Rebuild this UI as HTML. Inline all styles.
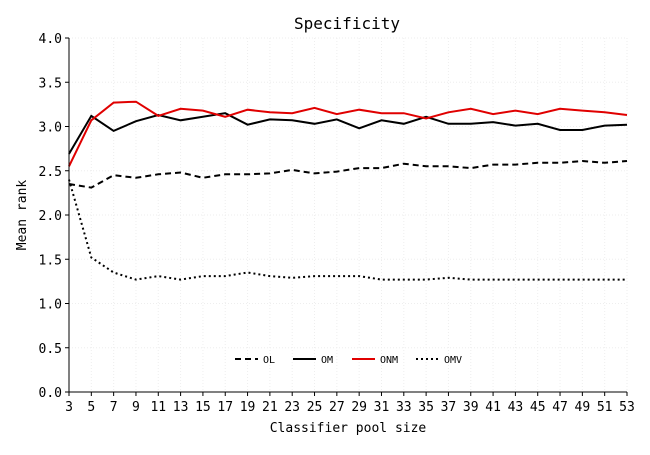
<!DOCTYPE html>
<html><head><meta charset="utf-8"><style>
body{margin:0;background:#fff}
svg{font-family:"DejaVu Sans Mono","Liberation Mono",monospace}
</style></head><body>
<svg id="chart" width="650" height="450" xmlns="http://www.w3.org/2000/svg">
<rect width="650" height="450" fill="#fff"/>
<g id="grid"></g>
<g id="series"></g>
<g id="axes"></g>
<text x="347" y="29" font-size="16" text-anchor="middle">Specificity</text>
<text x="348" y="432" font-size="13" text-anchor="middle">Classifier pool size</text>
<text transform="translate(26,215) rotate(-90)" font-size="13" text-anchor="middle">Mean rank</text>
<g id="legend"></g>
</svg>
<script>
const poolSizes=[3,5,7,9,11,13,15,17,19,21,23,25,27,29,31,33,35,37,39,41,43,45,47,49,51,53];
const olValues=[2.35,2.31,2.45,2.42,2.46,2.48,2.42,2.46,2.46,2.47,2.51,2.47,2.49,2.53,2.53,2.58,2.55,2.55,2.53,2.57,2.57,2.59,2.59,2.61,2.59,2.61];
const omValues=[2.69,3.12,2.95,3.06,3.13,3.07,3.11,3.15,3.02,3.08,3.07,3.03,3.08,2.98,3.07,3.03,3.11,3.03,3.03,3.05,3.01,3.03,2.96,2.96,3.01,3.02];
const onmValues=[2.55,3.07,3.27,3.28,3.12,3.20,3.18,3.11,3.19,3.16,3.15,3.21,3.14,3.19,3.15,3.15,3.09,3.16,3.20,3.14,3.18,3.14,3.20,3.18,3.16,3.13];
const omvValues=[2.40,1.52,1.35,1.27,1.31,1.27,1.31,1.31,1.35,1.31,1.29,1.31,1.31,1.31,1.27,1.27,1.27,1.29,1.27,1.27,1.27,1.27,1.27,1.27,1.27,1.27];
const yTicks=[0,0.5,1,1.5,2,2.5,3,3.5,4];
const seriesNames=["OL","OM","ONM","OMV"];
const NS="http://www.w3.org/2000/svg";
const X0=69,X1=627,Y0=392,Y1=38;
const xScale=v=>X0+(v-3)/(53-3)*(X1-X0);
const yScale=v=>Y0-v/4*(Y0-Y1);
function mk(tag,attrs,parent){const e=document.createElementNS(NS,tag);for(const k in attrs)e.setAttribute(k,attrs[k]);parent.appendChild(e);return e;}
const grid=document.getElementById('grid'),axes=document.getElementById('axes'),ser=document.getElementById('series'),leg=document.getElementById('legend');
poolSizes.forEach(p=>{
 const x=xScale(p);
 const g=mk('line',{x1:x,x2:x,y1:Y1,y2:Y0,stroke:'#eee','stroke-dasharray':'1,2'},grid);
 
 
 const t=mk('line',{x1:x,x2:x,y1:Y0,y2:Y0+4,stroke:'#000'},axes);
 
 
 const l=mk('text',{x:x,y:Y0+19,'font-size':13,'text-anchor':'middle'},axes);l.textContent=p;
 
 
});
yTicks.forEach(v=>{
 const y=yScale(v);
 const g=mk('line',{x1:X0,x2:X1,y1:y,y2:y,stroke:'#eee','stroke-dasharray':'1,2'},grid);
 
 
 const t=mk('line',{x1:X0-4,x2:X0,y1:y,y2:y,stroke:'#000'},axes);
 
 
 const l=mk('text',{x:X0-7,y:y+5,'font-size':13,'text-anchor':'end'},axes);l.textContent=v.toFixed(1);
 
 
});
const ax1=mk('line',{x1:X0,x2:X0,y1:Y1,y2:Y0,stroke:'#000'},axes);


const ax2=mk('line',{x1:X0,x2:X1,y1:Y0,y2:Y0,stroke:'#000'},axes);


const styles=[{c:'#000',d:'6,4'},{c:'#000',d:''},{c:'#e00000',d:''},{c:'#000',d:'2,3'}];
[olValues,omValues,onmValues,omvValues].forEach((vals,i)=>{
 const pts=vals.map((v,j)=>xScale(poolSizes[j]).toFixed(1)+','+yScale(v).toFixed(1)).join(' ');
 const a={points:pts,fill:'none',stroke:styles[i].c,'stroke-width':2};
 if(styles[i].d)a['stroke-dasharray']=styles[i].d;
 const pl=mk('polyline',a,ser);
 
 
});
const legX=[235,293,352,416];
seriesNames.forEach((n,i)=>{
 const a={x1:legX[i],x2:legX[i]+23,y1:359,y2:359,stroke:styles[i].c,'stroke-width':2};
 if(styles[i].d)a['stroke-dasharray']=styles[i].d;
 const ln=mk('line',a,leg);
 
 
 const t=mk('text',{x:legX[i]+28,y:363,'font-size':10},leg);t.textContent=n;
 
 
});
</script>
</body></html>
